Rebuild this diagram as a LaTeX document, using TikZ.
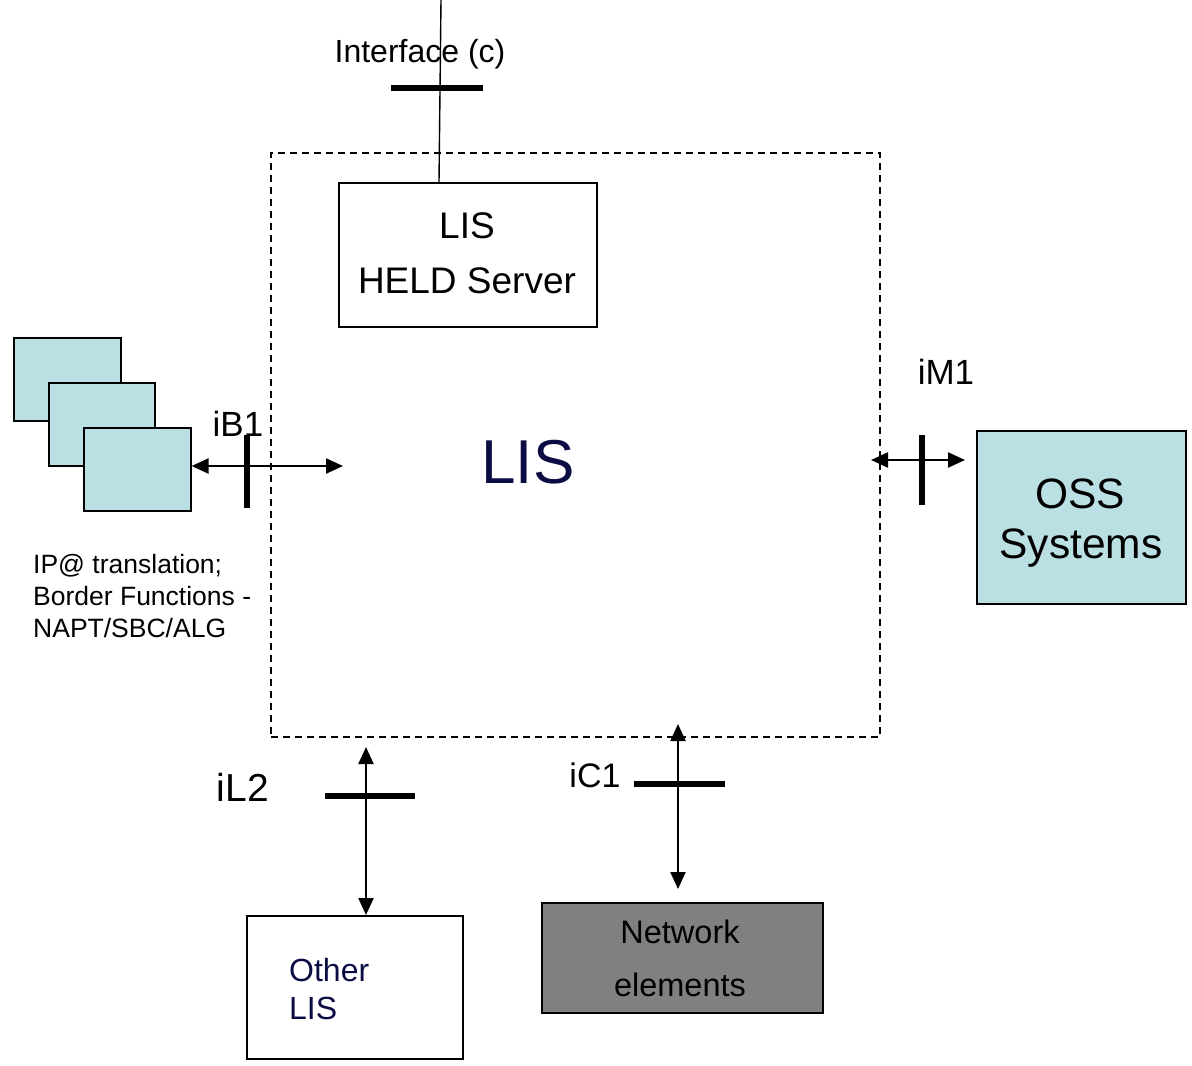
\documentclass[tikz,border=0pt]{standalone}
\usepackage{fontspec}
\setmainfont{Liberation Sans}
\usetikzlibrary{arrows.meta}
\definecolor{boxcyan}{HTML}{BBE0E3}
\definecolor{navy}{HTML}{0C0C45}
\definecolor{negray}{HTML}{808080}
\begin{document}
\begin{tikzpicture}[x=1pt,y=-1pt,
  box/.style={draw=black, line width=1.6pt, inner sep=0pt, anchor=north west},
  tip/.tip={Triangle[length=17pt,width=15pt]},
  link/.style={line width=2.3pt, tip-tip},
  bar/.style={line width=6.5pt},
  lbl/.style={inner sep=0pt}]
\useasboundingbox (0,0) rectangle (1192,1066);

% LIS boundary
\node[draw=black, line width=1.5pt, dash pattern=on 7pt off 5pt, inner sep=0pt,
      anchor=north west, minimum width=609pt, minimum height=584pt] (lis) at (270,152) {};
\node[lbl, text=navy, font=\fontsize{62}{70}\selectfont] (lisname) at (528,462) {LIS};

% HELD server
\node[box, minimum width=258pt, minimum height=144pt] (held) at (338,182) {};
\node[lbl, font=\fontsize{37}{44}\selectfont] (heldA) at (467,226) {LIS};
\node[lbl, font=\fontsize{37}{44}\selectfont] (heldB) at (467,281) {HELD Server};

% interface (c)
\coordinate (ctop) at (441,0);
\draw[line width=1.4pt] (ctop) -- (held.north -| 439,0);
\draw[bar] (391,88) -- (483,88);
\node[lbl, font=\fontsize{32}{38}\selectfont] (ifc) at (420,54) {Interface (c)};

% border function boxes
\node[box, fill=boxcyan, minimum width=107pt, minimum height=83pt] (bf1) at (13,337) {};
\node[box, fill=boxcyan, minimum width=106pt, minimum height=83pt] (bf2) at (48,382) {};
\node[box, fill=boxcyan, minimum width=107pt, minimum height=83pt] (bf3) at (83,427) {};
\coordinate (ib1end) at (343,466);
\draw[link] (bf3.east |- ib1end) -- (ib1end);
\draw[bar] (247,435) -- (247,508);
\node[lbl, font=\fontsize{35}{42}\selectfont] (ib1) at (238,424) {iB1};
\node[lbl, anchor=west, font=\fontsize{26.5}{32}\selectfont] (bfA) at (33,566) {IP@ translation;};
\node[lbl, anchor=west, font=\fontsize{26.5}{32}\selectfont] (bfB) at (33,596) {Border Functions -};
\node[lbl, anchor=west, font=\fontsize{26.5}{32}\selectfont] (bfC) at (33,628) {NAPT/SBC/ALG};

% OSS systems
\node[box, fill=boxcyan, minimum width=209pt, minimum height=173pt] (oss) at (976,430) {};
\node[lbl, font=\fontsize{42.5}{50}\selectfont] (ossA) at (1080,494) {OSS};
\node[lbl, font=\fontsize{42.5}{50}\selectfont] (ossB) at (1081,548) {Systems};
\coordinate (im1a) at (871,460);
\coordinate (im1b) at (965,460);
\draw[link] (im1a) -- (im1b);
\draw[bar] (922,435) -- (922,505);
\node[lbl, font=\fontsize{35}{42}\selectfont] (im1) at (946,372) {iM1};

% other LIS
\node[box, minimum width=216pt, minimum height=143pt] (other) at (246,915) {};
\node[lbl, anchor=west, text=navy, font=\fontsize{32}{38}\selectfont] (otherA) at (289,970) {Other};
\node[lbl, anchor=west, text=navy, font=\fontsize{32}{38}\selectfont] (otherB) at (289,1008) {LIS};
\coordinate (il2top) at (366,747);
\draw[link] (il2top) -- (other.north -| il2top);
\draw[bar] (325,796) -- (415,796);
\node[lbl, font=\fontsize{39}{46}\selectfont] (il2) at (243,787) {iL2};

% network elements
\node[box, fill=negray, minimum width=281pt, minimum height=110pt] (ne) at (541,902) {};
\node[lbl, font=\fontsize{32.5}{38}\selectfont] (neA) at (680,932) {Network};
\node[lbl, font=\fontsize{32.5}{38}\selectfont] (neB) at (680,985) {elements};
\coordinate (ic1top) at (678,724);
\coordinate (ic1bot) at (678,889);
\draw[link] (ic1top) -- (ic1bot);
\draw[bar] (634,784) -- (725,784);
\node[lbl, font=\fontsize{34}{40}\selectfont] (ic1) at (595,775) {iC1};
\end{tikzpicture}
\end{document}
